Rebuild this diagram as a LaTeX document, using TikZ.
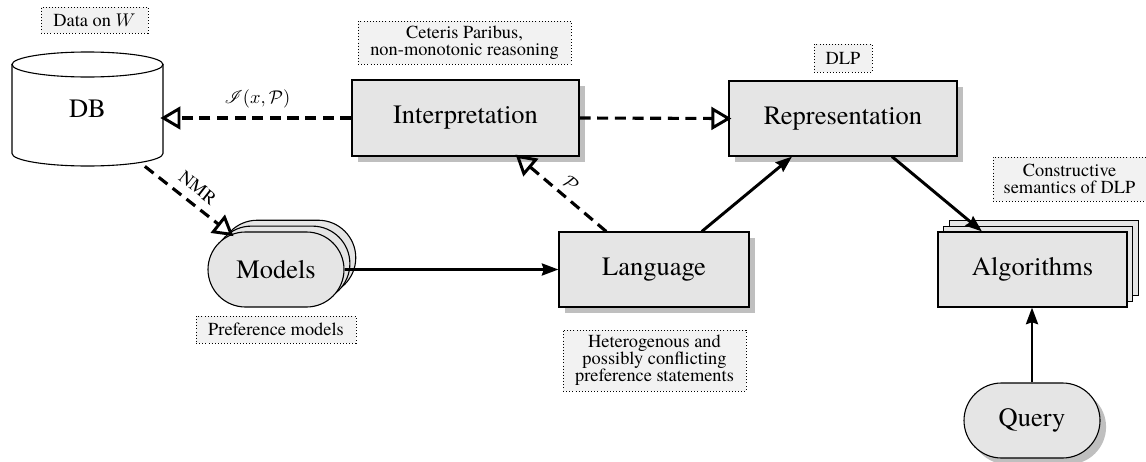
\documentclass[tikz,border=0pt]{standalone}
\usepackage{fontspec}
\setmainfont{TeX Gyre Termes}
\usepackage{mathrsfs}
\usetikzlibrary{shapes.misc,shadows,arrows.meta,calc}
\newlength\pxu
\setlength\pxu{0.544pt}
\begin{document}
\begin{tikzpicture}[x=0.544pt, y=0.544pt,
  base/.style={draw, line width=0.6pt, fill=black!10, inner sep=0pt,
    font=\fontsize{14.4}{17}\selectfont},
  boxshadow/.style={drop shadow={shadow xshift=3.3pt, shadow yshift=-3.5pt, fill=black!25, opacity=1}},
  stack/.style={double copy shadow={shadow xshift=3.2pt, shadow yshift=3.2pt, draw, fill=black!10, line width=0.6pt}},
  note/.style={draw, dash pattern=on 0.5pt off 1.2pt, line width=0.5pt, fill=black!5,
    align=center, inner sep=0pt, font=\fontsize{10}{9.2}\selectfont},
  dashline/.style={line width=1.7pt, dash pattern=on 6pt off 3.6pt, shorten >=8pt},
  opentip/.style={line width=1.6pt, line join=miter},
  solidarrow/.style={line width=1.6pt, -{Stealth[length=9pt, width=6.5pt, inset=1pt]}},
  lbl/.style={font=\fontsize{10}{12}\selectfont}
]
\useasboundingbox (0,0) rectangle (1146,-461);

% DB cylinder
\draw[line width=0.6pt, fill=white] (12,-64.5) -- (12,-153.5)
  arc[start angle=180, end angle=360, x radius=75.5, y radius=12.5] -- (163,-64.5) -- cycle;
\draw[line width=0.6pt, fill=white] (87.5,-64.5) ellipse [x radius=75.5, y radius=12.5];
\node[minimum width=151\pxu, minimum height=114\pxu, inner sep=0pt,
  font=\fontsize{14.4}{17}\selectfont] (db) at (87.5,-109) {\raisebox{-6.5pt}{DB}};

% main nodes
\node[base, boxshadow, minimum width=227\pxu, minimum height=76\pxu] (interp) at (465.5,-118) {Interpretation};
\node[base, boxshadow, minimum width=228\pxu, minimum height=75\pxu] (repr) at (843,-118.5) {Representation};
\node[base, boxshadow, minimum width=190\pxu, minimum height=75\pxu] (lang) at (654,-269.5) {Language};
\node[base, stack, minimum width=189\pxu, minimum height=75\pxu] (alg) at (1032.5,-269.5) {Algorithms};
\node[base, stack, rounded rectangle, minimum width=136\pxu, minimum height=75\pxu] (models) at (276,-269.5) {Models};
\node[base, boxshadow, rounded rectangle, minimum width=136\pxu, minimum height=75\pxu] (query) at (1032,-420.5) {Query};

% connector end points
\coordinate (dbin) at (interp.west -| db.east);
\coordinate (pstart) at ([xshift=-26pt]lang.north);
\coordinate (pend) at ([xshift=28.5pt]interp.south);
\path (db.-45) -- (models) coordinate[pos=0] (nmrstart) coordinate[pos=1] (nmrend);

% solid connectors
\draw[solidarrow] (models.east) -- (lang.west);
\draw[solidarrow] ([xshift=26pt]lang.north) -- ([xshift=-27.7pt]repr.south);
\draw[solidarrow] ([xshift=26.6pt]repr.south) -- ([xshift=-27.5pt]alg.north);
\draw[solidarrow] (query.north) -- (query.north |- alg.south);

% dashed connectors with open triangle heads
\draw[dashline] (interp.east) -- (repr.west);
\draw[opentip] (repr.west) -- ($(repr.west)!8.5pt!(interp.east)!5pt!90:(repr.west)$)
  -- ($(repr.west)!8.5pt!(interp.east)!5pt!-90:(repr.west)$) -- cycle;

\draw[dashline] (nmrstart) -- (nmrend)
  node[lbl, midway, sloped, above=1pt] {NMR};
\draw[opentip] (nmrend) -- ($(nmrend)!8.5pt!(nmrstart)!5pt!90:(nmrend)$)
  -- ($(nmrend)!8.5pt!(nmrstart)!5pt!-90:(nmrend)$) -- cycle;

\draw[dashline] (interp.west) -- (dbin)
  node[lbl, midway, above=1pt] {$\mathscr{I}(x,\mathcal{P})$};
\draw[opentip] (dbin) -- ($(dbin)!8.5pt!(interp.west)!5pt!90:(dbin)$)
  -- ($(dbin)!8.5pt!(interp.west)!5pt!-90:(dbin)$) -- cycle;

\draw[dashline] (pstart) -- (pend)
  node[lbl, midway, sloped, above] {$\mathcal{P}$};
\draw[opentip] (pend) -- ($(pend)!8.5pt!(pstart)!5pt!90:(pend)$)
  -- ($(pend)!8.5pt!(pstart)!5pt!-90:(pend)$) -- cycle;

% notes
\node[note, minimum width=107\pxu, minimum height=26\pxu] (nW) at (94.5,-20) {Data on $W$};
\node[note, minimum width=213\pxu, minimum height=43\pxu] (nCP) at (464.5,-42.5) {Ceteris Paribus,\\non-monotonic reasoning};
\node[note, minimum width=58\pxu, minimum height=28\pxu] (nDLP) at (843,-58) {DLP};
\node[note, minimum width=160\pxu, minimum height=27\pxu] (nPM) at (276,-329.5) {Preference models};
\node[note, minimum width=183\pxu, minimum height=61\pxu] (nHet) at (654.5,-360.5) {Heterogenous and\\possibly conflicting\\preference statements};
\node[note, minimum width=153\pxu, minimum height=44\pxu] (nCS) at (1069.5,-179) {Constructive\\semantics of DLP};
\end{tikzpicture}
\end{document}
